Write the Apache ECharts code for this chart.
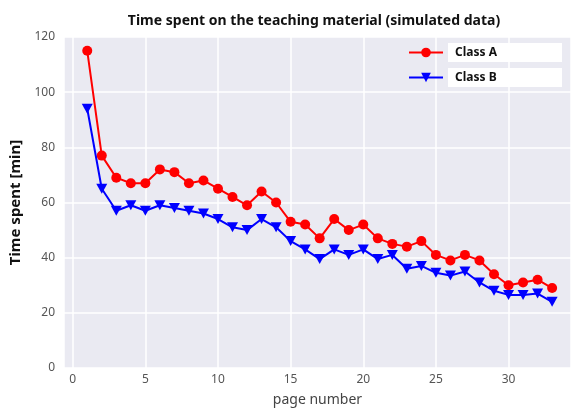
<!DOCTYPE html>
<html>
<head>
<meta charset="utf-8">
<script src="https://cdn.jsdelivr.net/npm/echarts@6/dist/echarts.min.js"></script>
<style>
  html, body { margin: 0; padding: 0; background: #fff; }
  #chart { width: 571px; height: 408px; }
</style>
</head>
<body>
<div id="chart"></div>
<script>
// page numbers 1..33
var pages = [1,2,3,4,5,6,7,8,9,10,11,12,13,14,15,16,17,18,19,20,21,22,23,24,25,26,27,28,29,30,31,32,33];

// minutes
var classA = [115,77,69,67,67,72,71,67,68,65,62,59,64,60,53,52,47,54,50,52,47,45,44,46,41,39,41,39,34,30,31,32,29];
var classB = [94,65,57,59,57,59,58,57,56,54,51,50,54,51,46,43,39.5,43,41,43,39.5,41,36,37,34.5,33.5,35,31,28,26.5,26.5,27,24];

var yTicks = [0,20,40,60,80,100,120];

function pairs(xs, ys) {
    return xs.map(function (x, i) { return [x, ys[i]]; });
}

var chart = echarts.init(document.getElementById('chart'));

chart.setOption({
    animation: false,
    backgroundColor: '#fff',
    title: {
        text: 'Time spent on the teaching material (simulated data)',
        left: 309,
        textAlign: 'center',
        top: 9,
        textStyle: { fontFamily: 'Noto Sans', fontSize: 14, fontWeight: 'bold', color: '#111' }
    },
    legend: {
        orient: 'vertical',
        left: 403,
        top: 38,
        itemWidth: 34,
        itemHeight: 12,
        itemGap: 6,
        data: ['Class A', 'Class B'],
        textStyle: {
            fontFamily: 'Noto Sans', fontSize: 12, fontWeight: 'bold', color: '#111',
            backgroundColor: '#fff', width: 100, lineHeight: 13, padding: [3, 7, 3, 7]
        }
    },
    grid: { left: 64, right: 0, top: 37, bottom: 40, containLabel: false, outerBoundsMode: 'none' },
    xAxis: {
        type: 'value',
        min: -0.6,
        max: 34.3,
        splitNumber: 7,
        name: 'page number',
        nameLocation: 'middle',
        nameGap: 25,
        nameTextStyle: { fontFamily: 'Noto Sans', fontSize: 14, color: '#444' },
        axisLine: { show: false },
        axisTick: { show: false },
        axisLabel: {
            fontFamily: 'Noto Sans', fontSize: 12, color: '#555', margin: 6,
            formatter: function (v) { return (Math.abs(v % 5) < 1e-6) ? String(v) : ''; }
        },
        splitLine: { lineStyle: { color: '#fff', width: 1.5 } }
    },
    yAxis: {
        type: 'value',
        min: yTicks[0],
        max: yTicks[yTicks.length - 1],
        interval: 20,
        name: 'Time spent [min]',
        nameLocation: 'middle',
        nameGap: 38,
        nameTextStyle: { fontFamily: 'Noto Sans', fontSize: 15, fontWeight: 'bold', color: '#111' },
        axisLine: { show: false },
        axisTick: { show: false },
        axisLabel: { fontFamily: 'Noto Sans', fontSize: 12, color: '#555', margin: 9 },
        splitLine: { lineStyle: { color: '#fff', width: 1.5 } },
        splitArea: { show: true, areaStyle: { color: ['#eaeaf2', '#eaeaf2'] } }
    },
    series: [
        {
            name: 'Class A',
            type: 'line',
            data: pairs(pages, classA),
            symbol: 'circle',
            symbolSize: 10,
            lineStyle: { color: '#ff0000', width: 2 },
            itemStyle: { color: '#ff0000' }
        },
        {
            name: 'Class B',
            type: 'line',
            data: pairs(pages, classB),
            symbol: 'triangle',
            symbolRotate: 180,
            symbolSize: [11, 10],
            lineStyle: { color: '#0000ff', width: 2 },
            itemStyle: { color: '#0000ff' }
        }
    ]
});
</script>
</body>
</html>
